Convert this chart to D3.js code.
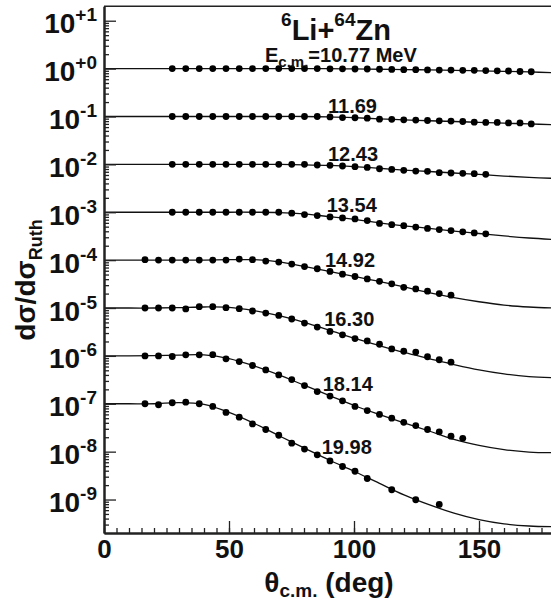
<!DOCTYPE html>
<html>
<head>
<meta charset="utf-8">
<script src="https://cdn.jsdelivr.net/npm/d3@7"></script>
<style>
  body { margin: 0; background: #fff; }
  svg { display: block; }
  text { font-family: "Liberation Sans", Arial, Helvetica, sans-serif; font-weight: bold; fill: #111; }
</style>
</head>
<body>
<svg id="chart" width="551" height="608"></svg>
<script>
// ---- data: 6Li + 64Zn elastic scattering, ratio to Rutherford ----
const energies = [10.77, 11.69, 12.43, 13.54, 14.92, 16.30, 18.14, 19.98];   // E c.m. (MeV)
const scaleFactors = [1, 1e-1, 1e-2, 1e-3, 1e-4, 1e-5, 1e-6, 1e-7];           // vertical offset per energy

// measured angles (deg, c.m.)
const theta1077 = [27.3,32.7,38.1,43.5,48.8,54.1,59.4,64.7,69.9,75.1,80.2,85.3,90.4,95.4,100.4,105.3,110.2,115.1,119.9,124.7,129.4,134.1,138.8,143.5,148.1,152.7,157.3,161.8,166.4,170.9];
const theta1169 = [27.3,32.7,38.1,43.5,48.8,54.1,59.4,64.7,69.9,75.1,80.2,85.3,90.4,95.4,100.4,105.3,110.2,115.1,119.9,124.7,129.4,134.1,138.8,143.5,148.1,152.7,157.3,161.8,166.4,170.9];
const theta1243 = [27.3,32.7,38.1,43.5,48.8,54.1,59.4,64.7,69.9,75.1,80.2,85.3,90.4,95.4,100.4,105.3,110.2,115.1,119.9,124.7,129.4,134.1,138.8,143.5,148.1,152.7];
const theta1354 = [27.3,32.7,38.1,43.5,48.8,54.1,59.4,64.7,69.9,75.1,80.2,85.3,90.4,95.4,100.4,105.3,110.2,115.1,119.9,124.7,129.4,134.1,138.8,143.5,148.1,152.7];
const theta1492 = [16.4,21.8,27.3,32.7,38.1,43.5,48.8,54.1,59.4,64.7,69.9,75.1,80.2,85.3,90.4,95.4,100.4,105.3,110.2,115.1,119.9,124.7,129.4,134.1,138.8];
const theta1630 = [16.4,21.8,27.3,32.7,38.1,43.5,48.8,54.1,59.4,64.7,69.9,75.1,80.2,85.3,90.4,95.4,100.4,105.3,110.2,115.1,119.9,124.7,129.4,134.1,138.8];
const theta1814 = [16.4,21.8,27.3,32.7,38.1,43.5,48.8,54.1,59.4,64.7,69.9,75.1,80.2,85.3,90.4,95.4,100.4,105.3,110.2,115.1,119.9,124.7,129.4,134.1,138.8,143.5];
const theta1998 = [16.4,21.8,27.3,32.7,38.1,43.5,48.8,54.1,59.4,64.7,69.9,75.1,80.2,85.3,90.4,95.4,100.4,105.3,115.1,124.7,134.1];

// measured dσ/dσRuth
const ratio1077 = [1,1,1,1,1,1,1,1,1,1,1,1,0.99,0.99,0.98,0.98,0.97,0.96,0.95,0.95,0.94,0.93,0.93,0.92,0.92,0.91,0.90,0.89,0.87,0.86];
const ratio1169 = [1,1,1,1,1,1,1,1,1,1,1,1,0.98,0.95,0.94,0.92,0.88,0.87,0.85,0.84,0.825,0.81,0.80,0.785,0.76,0.75,0.75,0.735,0.735,0.70];
const ratio1243 = [1,1,1,1,1,1,1,1,1,1,1,0.97,0.955,0.925,0.895,0.865,0.81,0.785,0.75,0.725,0.715,0.67,0.66,0.65,0.64,0.62];
const ratio1354 = [1,1,1,1,1,1,1,1,1,0.955,0.895,0.85,0.80,0.76,0.725,0.67,0.585,0.55,0.525,0.49,0.46,0.435,0.415,0.39,0.37,0.355];
const ratio1492 = [1.02,1,1,1,1,1,1,1.05,1.02,0.955,0.91,0.825,0.735,0.66,0.58,0.51,0.455,0.405,0.36,0.32,0.27,0.25,0.225,0.2,0.185];
const ratio1630 = [1,1,1,0.955,1.065,1.065,1.015,0.97,0.865,0.785,0.70,0.59,0.485,0.40,0.325,0.275,0.23,0.205,0.175,0.14,0.125,0.12,0.096,0.083,0.074];
const ratio1814 = [1,1,0.97,1.05,1.05,1.06,0.87,0.76,0.63,0.51,0.40,0.32,0.24,0.18,0.145,0.115,0.088,0.072,0.06,0.05,0.041,0.035,0.029,0.026,0.021,0.019];
const ratio1998 = [1,0.955,1.05,1.08,1,0.88,0.66,0.525,0.38,0.29,0.22,0.15,0.113,0.086,0.064,0.049,0.039,0.0275,0.016,0.0099,0.0079];

// optical-model fits, sampled every 10 deg
const fitTheta = [0,10,20,30,40,50,60,70,80,90,100,110,120,130,140,150,160,170,180];
const fit1077 = [1,1,1,1,1,1,1,1,1,0.995,0.985,0.97,0.955,0.94,0.92,0.90,0.875,0.85,0.82];
const fit1169 = [1,1,1,1,1,1,1,1,1,0.985,0.945,0.89,0.85,0.815,0.785,0.755,0.725,0.70,0.67];
const fit1243 = [1,1,1,1,1,1,1,1,0.98,0.95,0.90,0.83,0.76,0.71,0.66,0.615,0.57,0.535,0.51];
const fit1354 = [1,1,1,1,1,1,1,0.985,0.92,0.81,0.71,0.60,0.52,0.46,0.405,0.36,0.32,0.29,0.27];
const fit1492 = [1,1,1,1,1,1.02,1.02,0.92,0.74,0.585,0.46,0.36,0.275,0.21,0.165,0.135,0.115,0.105,0.10];
const fit1630 = [1,1,1,1.02,1.05,1.03,0.88,0.69,0.50,0.345,0.235,0.165,0.118,0.088,0.066,0.051,0.042,0.037,0.035];
const fit1814 = [1,1,1.01,1.04,1.05,0.88,0.62,0.40,0.245,0.15,0.092,0.06,0.04,0.027,0.018,0.0135,0.011,0.0098,0.0095];
const fit1998 = [1,1,1.0,1.06,0.97,0.66,0.39,0.215,0.12,0.067,0.039,0.022,0.0125,0.0078,0.0052,0.0038,0.0031,0.0028,0.0027];

// axis ticks
const xMajorTicks = [0, 50, 100, 150];
const yExponents = [1, 0, -1, -2, -3, -4, -5, -6, -7, -8, -9];
const yExponentText = ["+1", "+0", "-1", "-2", "-3", "-4", "-5", "-6", "-7", "-8", "-9"];

const thetaSets = [theta1077, theta1169, theta1243, theta1354, theta1492, theta1630, theta1814, theta1998];
const ratioSets = [ratio1077, ratio1169, ratio1243, ratio1354, ratio1492, ratio1630, ratio1814, ratio1998];
const fitSets = [fit1077, fit1169, fit1243, fit1354, fit1492, fit1630, fit1814, fit1998];

// where each energy label sits: angle and pixel shift from its 10^k level
const energyLabelAt = [null, [89.6, -3.9], [89.6, -3.7], [89.1, 0], [88.4, 6.6], [88.1, 18.2], [87.5, 34.8], [87.1, 50]];

// ---- layout ----
const svg = d3.select("#chart");
const x = d3.scaleLinear().domain([0, 180]).range([104, 554]);
const y = d3.scaleLog().domain([2e-10, 20]).range([533, 6.3]);
const axisColor = "#222";

// fit curves
const line = d3.line()
  .x(d => x(d[0]))
  .y(d => y(d[1]))
  .curve(d3.curveCatmullRom.alpha(0.5));

const gCurves = svg.append("g");
fitSets.forEach((fit, i) => {
  const pts = fitTheta.map((t, j) => [t, fit[j] * scaleFactors[i]]);
  gCurves.append("path")
    .attr("d", line(pts))
    .attr("fill", "none")
    .attr("stroke", "#111")
    .attr("stroke-width", 1.3);
});

// data points
const gPts = svg.append("g");
thetaSets.forEach((ths, i) => {
  gPts.selectAll(null)
    .data(ths.map((t, j) => [t, ratioSets[i][j] * scaleFactors[i]]))
    .join("circle")
    .attr("cx", d => x(d[0]))
    .attr("cy", d => y(d[1]))
    .attr("r", 3.4)
    .attr("fill", "#000");
});

// frame top line
svg.append("line")
  .attr("x1", x(0)).attr("x2", x(180))
  .attr("y1", y.range()[1]).attr("y2", y.range()[1])
  .attr("stroke", axisColor).attr("stroke-width", 1.5);

// x axis: minor and major ticks drawn inward
const xMinor = svg.append("g").attr("transform", `translate(0,${y.range()[0]})`)
  .call(d3.axisBottom(x).tickValues(d3.range(0, 181, 5)).tickSize(-5).tickSizeOuter(0).tickFormat(""));
const xMajor = svg.append("g").attr("transform", `translate(0,${y.range()[0]})`)
  .call(d3.axisBottom(x).tickValues(xMajorTicks).tickSize(-12).tickSizeOuter(0).tickPadding(7).tickFormat(d3.format("d")));
[xMinor, xMajor].forEach(g => {
  g.select(".domain").attr("stroke", axisColor).attr("stroke-width", 2);
  g.selectAll(".tick line").attr("stroke", axisColor).attr("stroke-width", 1.3);
});
xMajor.selectAll(".tick text")
  .attr("font-size", 26)
  .attr("font-family", "Liberation Sans, Arial, sans-serif")
  .attr("font-weight", "bold")
  .attr("fill", "#111");

// y axis: log ticks drawn inward
const yMinorValues = [];
for (let k = -10; k <= 1; k++) {
  for (let m = 2; m <= 9; m++) {
    const v = m * Math.pow(10, k);
    if (v > y.domain()[0] && v < y.domain()[1]) yMinorValues.push(v);
  }
}
const yMinor = svg.append("g").attr("transform", `translate(${x(0)},0)`)
  .call(d3.axisLeft(y).tickValues(yMinorValues).tickSize(-5).tickSizeOuter(0).tickFormat(""));
const yMajor = svg.append("g").attr("transform", `translate(${x(0)},0)`)
  .call(d3.axisLeft(y).tickValues(yExponents.map(e => Math.pow(10, e))).tickSize(-12).tickSizeOuter(0).tickFormat(""));
[yMinor, yMajor].forEach(g => {
  g.select(".domain").attr("stroke", axisColor).attr("stroke-width", 2);
  g.selectAll(".tick line").attr("stroke", axisColor).attr("stroke-width", 1.3);
});

// y tick labels 10^n
yExponents.forEach((e, i) => {
  const t = svg.append("text")
    .attr("x", 97)
    .attr("y", y(Math.pow(10, e)) + 12.5)
    .attr("text-anchor", "end")
    .attr("font-size", 28)
    .text("10");
  t.append("tspan").attr("dy", -12).attr("font-size", 19).text(yExponentText[i]);
});

// axis titles
const xt = svg.append("text")
  .attr("x", x(90)).attr("y", 592)
  .attr("text-anchor", "middle")
  .attr("font-size", 28)
  .text("θ");
xt.append("tspan").attr("dy", 5).attr("font-size", 19).text("c.m.");
xt.append("tspan").attr("dy", -5).text(" (deg)");

const yt = svg.append("text")
  .attr("transform", "translate(35,280) rotate(-90)")
  .attr("text-anchor", "middle")
  .attr("font-size", 28)
  .text("dσ/dσ");
yt.append("tspan").attr("dy", 7).attr("font-size", 18).text("Ruth");

// reaction title
const title = svg.append("text")
  .attr("x", 336).attr("y", 40)
  .attr("text-anchor", "middle")
  .attr("font-size", 29);
title.append("tspan").attr("font-size", 19).attr("dy", -14).text("6");
title.append("tspan").attr("dy", 14).text("Li+");
title.append("tspan").attr("font-size", 19).attr("dy", -14).text("64");
title.append("tspan").attr("dy", 14).text("Zn");

// energy of the top curve
const e0 = svg.append("text")
  .attr("x", 265).attr("y", 62)
  .attr("font-size", 20)
  .text("E");
e0.append("tspan").attr("dy", 5).attr("font-size", 15).text("c.m.");
e0.append("tspan").attr("dy", -5).text(`=${energies[0].toFixed(2)} MeV`);

// energy labels of the other curves
energies.forEach((E, i) => {
  if (!energyLabelAt[i]) return;
  const [th, dy] = energyLabelAt[i];
  svg.append("text")
    .attr("x", x(th))
    .attr("y", y(scaleFactors[i]) + dy)
    .attr("font-size", 20)
    .text(E.toFixed(2));
});
</script>
</body>
</html>
